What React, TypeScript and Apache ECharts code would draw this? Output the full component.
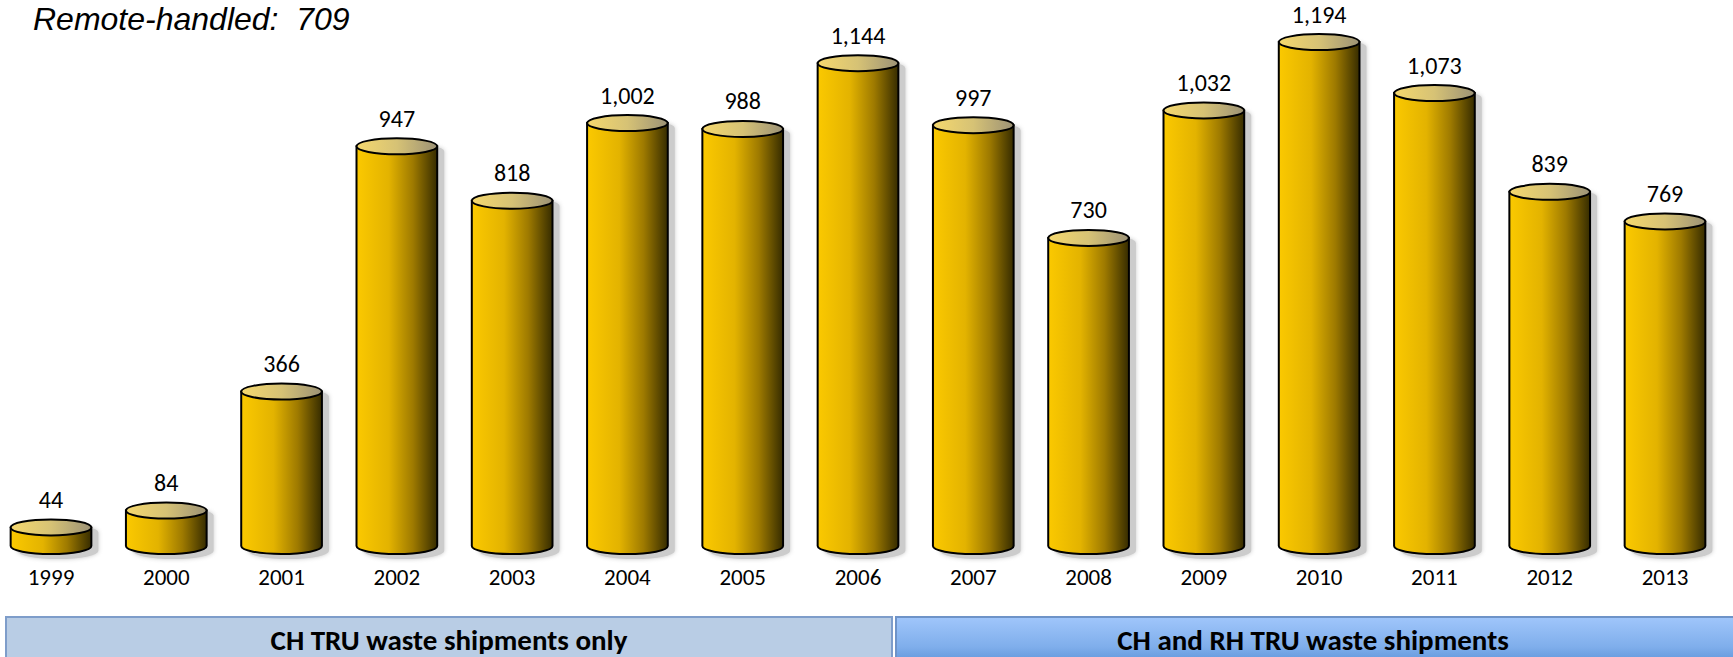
import React, { useEffect, useRef } from "react";
import * as echarts from "echarts";

const years = ["1999", "2000", "2001", "2002", "2003", "2004", "2005", "2006", "2007", "2008", "2009", "2010", "2011", "2012", "2013"];
const shipments = [44, 84, 366, 947, 818, 1002, 988, 1144, 997, 730, 1032, 1194, 1073, 839, 769];
const remoteHandledTotal = 709;
const periodLabels = ["CH TRU waste shipments only", "CH and RH TRU waste shipments"];

const FAMILY = 'Carlito, Lato, "Open Sans", sans-serif';

export default function App() {
  const ref = useRef<HTMLDivElement>(null);

  useEffect(() => {
    document.body.style.margin = "0";
    if (!ref.current) return;
    const chart = echarts.init(ref.current, undefined, { renderer: "svg" });

    const bodyFill = new echarts.graphic.LinearGradient(0, 0, 1, 0, [
      { offset: 0, color: "#FBC900" },
      { offset: 0.4, color: "#E3B300" },
      { offset: 0.7, color: "#9E7A00" },
      { offset: 1, color: "#362C00" },
    ]);
    const topFill = new echarts.graphic.LinearGradient(0, 0, 1, 0, [
      { offset: 0, color: "#F5D86E" },
      { offset: 0.5, color: "#D6C275" },
      { offset: 1, color: "#9C9276" },
    ]);

    const renderItem = (params: any, api: any) => {
      const idx = api.value(0);
      const val = api.value(1);
      const top = api.coord([idx, val]);
      const base = api.coord([idx, 0]);
      const w = api.size([1, 0])[0] * 0.7;
      const rx = w / 2;
      const ry = 8;
      const cx = top[0];
      const ty = top[1];
      const by = base[1];
      const dx = 7;
      const dy = 5;
      const shadowPath = `M ${cx - rx + dx} ${ty + dy} A ${rx} ${ry} 0 0 1 ${cx + rx + dx} ${ty + dy} L ${cx + rx + dx} ${by + dy} A ${rx} ${ry} 0 0 1 ${cx - rx + dx} ${by + dy} Z`;
      const bodyPath = `M ${cx - rx} ${ty} L ${cx - rx} ${by} A ${rx} ${ry} 0 0 0 ${cx + rx} ${by} L ${cx + rx} ${ty} Z`;
      return {
        type: "group",
        children: [
          {
            type: "path",
            shape: { pathData: shadowPath },
            style: { fill: "#cccccc", shadowBlur: 4, shadowColor: "#c8c8c8" },
          },
          {
            type: "path",
            shape: { pathData: bodyPath },
            style: { fill: bodyFill, stroke: "#000", lineWidth: 2 },
          },
          {
            type: "ellipse",
            shape: { cx, cy: ty, rx, ry },
            style: { fill: topFill, stroke: "#000", lineWidth: 2 },
          },
          {
            type: "text",
            style: {
              text: Number(val).toLocaleString("en-US"),
              x: cx,
              y: ty - ry - 8,
              align: "center",
              verticalAlign: "bottom",
              textAlign: "center",
              textVerticalAlign: "bottom",
              font: `24px ${FAMILY}`,
              fill: "#000",
            },
          },
        ],
      };
    };

    chart.setOption({
      animation: false,
      grid: { left: 51, right: 68, top: 39.5, bottom: 111 },
      xAxis: {
        type: "category",
        data: years,
        boundaryGap: false,
        axisLine: { show: false },
        axisTick: { show: false },
        axisLabel: {
          margin: 19,
          color: "#000",
          fontSize: 23,
          fontFamily: FAMILY,
        },
      },
      yAxis: {
        type: "value",
        min: 0,
        max: 1200,
        show: false,
        splitLine: { show: false },
      },
      series: [
        {
          type: "custom",
          renderItem,
          encode: { x: 0, y: 1 },
          data: shipments.map((v, i) => [i, v]),
          clip: false,
        },
      ],
      graphic: [
        {
          type: "text",
          left: 33,
          top: 3,
          style: {
            text: `Remote-handled:  ${remoteHandledTotal}`,
            font: 'italic 32px "Liberation Sans", Arial, sans-serif',
            fill: "#000",
          },
        },
        {
          type: "rect",
          shape: { x: 6, y: 617, width: 886, height: 60 },
          style: { fill: "#B9CDE5", stroke: "#7E9DCA", lineWidth: 2 },
          z: 0,
        },
        {
          type: "rect",
          shape: { x: 896, y: 617, width: 860, height: 60 },
          style: {
            fill: new echarts.graphic.LinearGradient(0, 0, 0, 1, [
              { offset: 0, color: "#A0C6FB" },
              { offset: 0.5, color: "#7FAEEB" },
              { offset: 1, color: "#4580CC" },
            ]),
            stroke: "#6E93C8",
            lineWidth: 2,
          },
          z: 0,
        },
        {
          type: "text",
          x: 449,
          y: 640,
          style: {
            text: periodLabels[0],
            x: 0,
            y: 0,
            align: "center",
            verticalAlign: "middle",
            textAlign: "center",
            textVerticalAlign: "middle",
            font: `bold 29px ${FAMILY}`,
            fill: "#000",
          },
          z: 1,
        },
        {
          type: "text",
          x: 1313,
          y: 640,
          style: {
            text: periodLabels[1],
            x: 0,
            y: 0,
            align: "center",
            verticalAlign: "middle",
            textAlign: "center",
            textVerticalAlign: "middle",
            font: `bold 29px ${FAMILY}`,
            fill: "#000",
          },
          z: 1,
        },
      ],
    });

    return () => chart.dispose();
  }, []);

  return <div ref={ref} style={{ width: 1733, height: 657 }} />;
}
